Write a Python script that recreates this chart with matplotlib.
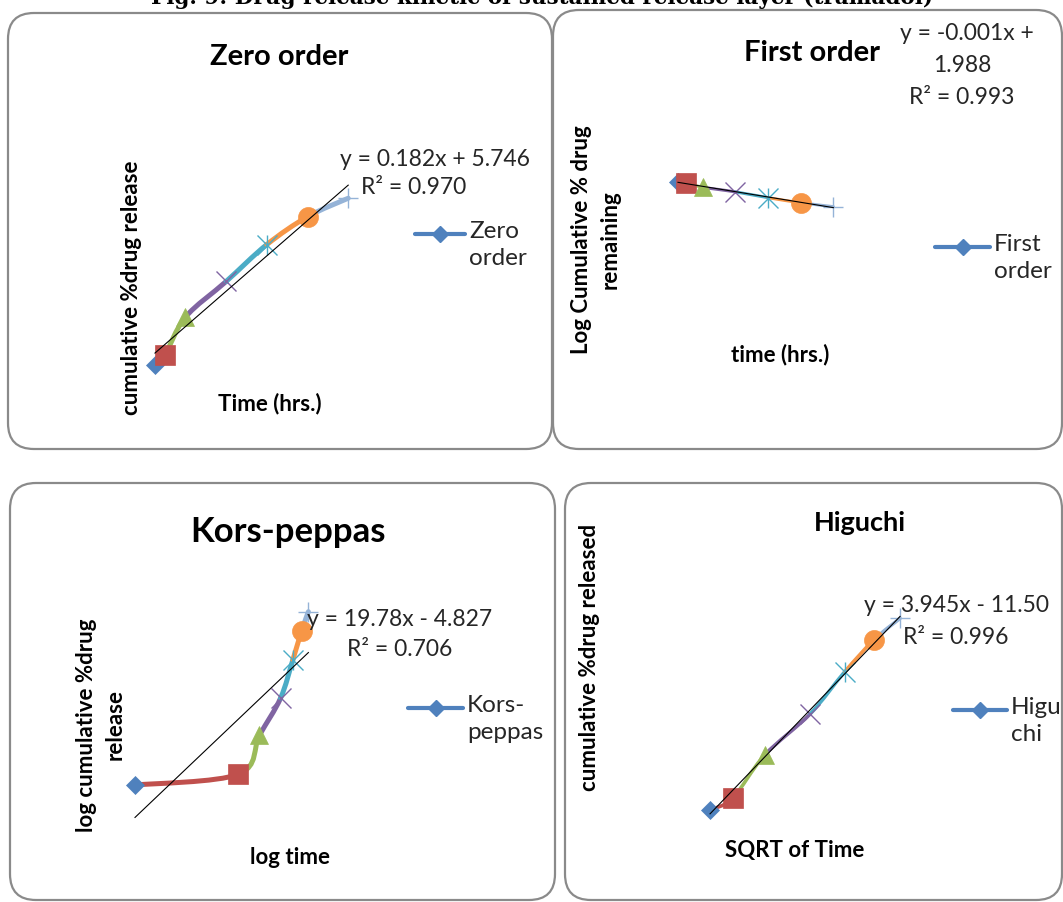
import matplotlib
matplotlib.use("Agg")
import matplotlib.pyplot as plt
from matplotlib.patches import FancyBboxPatch, PathPatch
from matplotlib.path import Path
import numpy as np

W, H = 1063, 902
DPI = 100

# in-vitro release of the sustained release layer (tramadol)
time_min = [15, 30, 60, 120, 180, 240, 300]
cum_release = [4.8, 8.0, 19.6, 30.6, 42.0, 50.6, 56.3]
log_remaining = [1.979, 1.964, 1.905, 1.841, 1.763, 1.694, 1.641]
log_time = [0.0, 1.477, 1.778, 2.079, 2.255, 2.380, 2.477]
sqrt_time = [3.873, 5.477, 7.746, 10.954, 13.416, 15.492, 17.321]

# linear trendlines: slope, intercept, r squared
zero_fit = (0.182, 5.746, 0.970)
first_fit = (-0.0012, 1.988, 0.993)
kp_fit = (19.78, -4.827, 0.706)
higuchi_fit = (3.945, -11.50, 0.996)

# office 2007 "vary colors by point" palette and marker cycle
point_colors = ['#4F81BD', '#C0504D', '#9BBB59', '#8064A2', '#4BACC6', '#F79646', '#95B3D7']
asterisk = Path([(-0.5, -0.5), (0.5, 0.5), (-0.5, 0.5), (0.5, -0.5), (0, -0.5), (0, 0.5)],
                [Path.MOVETO, Path.LINETO, Path.MOVETO, Path.LINETO, Path.MOVETO, Path.LINETO])
point_markers = ['D', 's', '^', 'x', asterisk, 'o', '+']
marker_sizes = [8.7, 13.7, 13.0, 14.4, 14.4, 14.4, 13.7]

FONT = 'Lato'
INK = '#262626'


def px_rect(left, top, right, bottom):
    return [left / W, 1 - bottom / H, (right - left) / W, (bottom - top) / H]


# Excel style smoothed line, each segment in the colour of the point it runs to
def smooth_segments(ax, xs, ys, lw):
    pts = np.column_stack([xs, ys])
    n = len(pts)
    for i in range(n - 1):
        p0 = pts[max(i - 1, 0)]
        p1 = pts[i]
        p2 = pts[i + 1]
        p3 = pts[min(i + 2, n - 1)]
        c1 = p1 + (p2 - p0) / 6.0
        c2 = p2 - (p3 - p1) / 6.0
        path = Path([p1, c1, c2, p2], [Path.MOVETO, Path.CURVE4, Path.CURVE4, Path.CURVE4])
        patch = PathPatch(path, facecolor='none', edgecolor=point_colors[i + 1], lw=lw,
                          capstyle='round', joinstyle='round', transform=ax.transData,
                          zorder=2, clip_on=False)
        ax.add_patch(patch)


def draw_panel(fig, box, xs, ys, xlim, ylim, fit, lw):
    ax = fig.add_axes(px_rect(*box))
    ax.set_xlim(*xlim)
    ax.set_ylim(*ylim)
    ax.axis('off')
    smooth_segments(ax, xs, ys, lw)
    for i in range(len(xs)):
        thin = point_markers[i] in ('x', '+') or point_markers[i] is asterisk
        ax.plot([xs[i]], [ys[i]], linestyle='none', marker=point_markers[i],
                markersize=marker_sizes[i], color=point_colors[i],
                markeredgewidth=1.0 if thin else 0.5, zorder=3, clip_on=False)
    slope, icpt, r2 = fit
    tx = np.array([xs[0], xs[-1]])
    ax.plot(tx, slope * tx + icpt, color='black', lw=0.8, zorder=4, clip_on=False)
    return ax


fig = plt.figure(figsize=(W / DPI, H / DPI), dpi=DPI)

draw_panel(fig, (144.8, 153.9, 382.1, 380.5), time_min, cum_release, (0, 350), (0, 70), zero_fit, 3.6)
draw_panel(fig, (669.8, 143.1, 860.6, 328.1), time_min, log_remaining, (0, 350), (0, 2.5), first_fit, 2.2)
draw_panel(fig, (135, 565.6, 345, 801.2), log_time, cum_release, (0, 3), (0, 70), kp_fit, 3.6)
draw_panel(fig, (655.3, 567.4, 937.9, 827.9), sqrt_time, cum_release, (0, 20), (0, 70), higuchi_fit, 2.6)

# overlay in pixel coordinates for frames and text
ov = fig.add_axes([0, 0, 1, 1], zorder=10)
ov.set_xlim(0, W)
ov.set_ylim(H, 0)
ov.axis('off')
ov.patch.set_alpha(0)

for (l, t, r, b) in [(8, 13, 552, 449), (553, 10, 1062, 449), (10, 483, 555, 900), (565, 483, 1062, 900)]:
    ov.add_patch(FancyBboxPatch((l, t), r - l, b - t, boxstyle='round,pad=0,rounding_size=26',
                                facecolor='none', edgecolor='#8a8a8a', lw=1.6))

ov.text(542, 4, 'Fig. 9: Drug release kinetic of sustained release layer (tramadol)',
        family='DejaVu Serif', weight='bold', fontsize=15.5, ha='center', va='baseline')

# chart titles
ov.text(279, 57, 'Zero order', family=FONT, weight='bold', fontsize=21, ha='center', va='center')
ov.text(812, 53, 'First order', family=FONT, weight='bold', fontsize=21, ha='center', va='center')
ov.text(288, 532, 'Kors-peppas', family=FONT, weight='bold', fontsize=25, ha='center', va='center')
ov.text(860, 523, 'Higuchi', family=FONT, weight='bold', fontsize=19.5, ha='center', va='center')

# axis titles
lab = dict(family=FONT, weight='bold', fontsize=16, ha='center', va='center')
ov.text(132, 288, 'cumulative %drug release', rotation=90, **lab)
ov.text(596, 240, 'Log Cumulative % drug\nremaining', rotation=90, linespacing=1.45, **lab)
ov.text(101, 725, 'log cumulative %drug\nrelease', rotation=90, linespacing=1.45, **lab)
ov.text(590, 657, 'cumulative %drug released', rotation=90, **lab)
ov.text(270, 404, 'Time (hrs.)', **lab)
ov.text(780, 355, 'time (hrs.)', **lab)
ov.text(290, 857, 'log time', **lab)
ov.text(795, 850, 'SQRT of Time', **lab)


def eq_label(fit, sfmt, ifmt):
    slope, icpt, r2 = fit
    sign = '+' if icpt >= 0 else '-'
    return ('y = ' + format(slope, sfmt) + 'x ' + sign + ' ' + format(abs(icpt), ifmt),
            'R\u00b2 = ' + format(r2, '.3f'))


txt = dict(family=FONT, fontsize=16.5, ha='center', va='center', color=INK)
e, r = eq_label(zero_fit, '.3f', '.3f')
ov.text(435, 160, e, **txt)
ov.text(414, 187, r, **txt)
e, r = eq_label(first_fit, '.3f', '.3f')
ov.text(967, 33, e.rsplit(' ', 1)[0], **txt)
ov.text(962, 65, e.rsplit(' ', 1)[1], **txt)
ov.text(962, 97, r, **txt)
e, r = eq_label(kp_fit, '.2f', '.3f')
ov.text(400, 620, e, **txt)
ov.text(400, 650, r, **txt)
e, r = eq_label(higuchi_fit, '.3f', '.2f')
ov.text(956, 605, e, **txt)
ov.text(956, 637, r, **txt)

# single-entry legends
for (x0, x1, y, name) in [(415, 465, 234, 'Zero\norder'), (935, 990, 247, 'First\norder'),
                          (408, 463, 708, 'Kors-\npeppas'), (953, 1007, 710, 'Higu\nchi')]:
    ov.plot([x0, x1], [y, y], color=point_colors[0], lw=3.0, solid_capstyle='round')
    ov.plot([(x0 + x1) / 2], [y], marker='D', markersize=8, color=point_colors[0])
    ov.text(x1 + 4, y - 13, name, family=FONT, fontsize=17.5, ha='left', va='top',
            linespacing=1.38, color=INK)

fig.savefig('out.png', dpi=DPI)
